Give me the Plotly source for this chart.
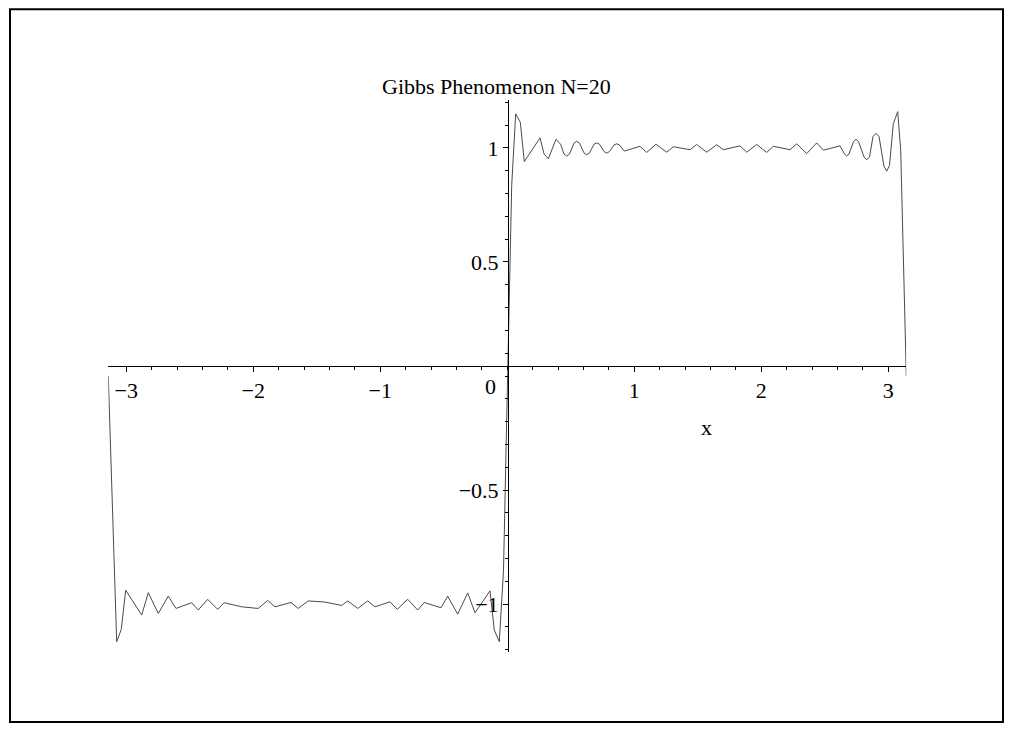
import plotly.graph_objects as go
import math

x_vals = [-3.1416, -3.1118, -3.0756, -3.0394, -3.0047, -2.8787, -2.8268, -2.7480, -2.6693,
          -2.6087, -2.4850, -2.4331, -2.3591, -2.2803, -2.2283, -2.0913, -1.9606, -1.8866,
          -1.8291, -1.7031, -1.6457, -1.5669, -1.4354, -1.3039, -1.2567, -1.1780, -1.0992,
          -1.0417, -0.9236, -0.8661, -0.7843, -0.7055, -0.6535, -0.5220, -0.4693, -0.3906,
          -0.3118, -0.2543, -0.1362, -0.1024, -0.0630, -0.0299, 0.0, 0.0346, 0.0661,
          0.1024, 0.1339, 0.2575, 0.2890, 0.3228, 0.3835, 0.4205,
          0.4464, 0.4677, 0.4898, 0.5252, 0.5465, 0.5685, 0.6039, 0.6252, 0.6472,
          0.6827, 0.7039, 0.7260, 0.7614, 0.7827, 0.8047, 0.8402, 0.8614, 0.8835,
          0.9213, 1.0449, 1.0976, 1.1709, 1.2551, 1.3071, 1.4386,
          1.4913, 1.5701, 1.6488, 1.7008, 1.8323, 1.8850, 1.9638, 2.0425, 2.0945, 2.2260,
          2.2787, 2.3575, 2.4362, 2.4882, 2.6197,
          2.6551, 2.6724, 2.6906, 2.7260, 2.7457, 2.7654, 2.8087, 2.8299, 2.8520,
          2.8795, 2.9031, 2.9268, 2.9661, 2.9874, 3.0094,
          3.0394, 3.0740, 3.0976, 3.1416]
y_vals = [0.0, -0.566, -1.165, -1.111, -0.939, -1.048, -0.950, -1.041, -0.965,
          -1.019, -0.994, -1.026, -0.979, -1.023, -0.994, -1.012, -1.019, -0.984,
          -1.012, -0.993, -1.019, -0.986, -0.991, -1.006, -0.986, -1.019, -0.986,
          -1.012, -0.990, -1.023, -0.979, -1.026, -0.993, -1.016, -0.965, -1.044,
          -0.951, -1.038, -0.942, -1.114, -1.165, -0.851, 0.0, 0.835, 1.149,
          1.113, 0.940, 1.044, 0.974, 0.952, 1.038, 1.015,
          0.973, 0.964, 0.973, 1.021, 1.029, 1.021, 0.978, 0.970, 0.978,
          1.016, 1.022, 1.016, 0.984, 0.977, 0.984, 1.013, 1.018, 1.013,
          0.986, 1.007, 0.980, 1.016, 0.981, 1.005, 0.992,
          1.015, 0.981, 1.014, 0.992, 1.009, 0.981, 1.015, 0.980, 1.007, 0.992,
          1.018, 0.975, 1.022, 0.990, 1.009,
          0.973, 0.965, 0.973, 1.028, 1.038, 1.028, 0.960, 0.948, 0.960,
          1.050, 1.064, 1.050, 0.919, 0.898, 0.923,
          1.106, 1.159, 0.989, 0.0]

x_ticks = [-3, -2, -1, 1, 2, 3]
y_ticks = [-1, -0.5, 0.5, 1]
title_text = "Gibbs Phenomenon N=20"
x_label = "x"

# page body has an 8px margin; the figure is laid out in window pixels minus it
OFF = 8
W, H = 1000, 716
FONT = "Liberation Serif, Times New Roman, serif"


def px(v):
    return (v - OFF) / W


def py(v):
    return 1 - (v - OFF) / H


fig = go.Figure()
fig.add_trace(go.Scatter(x=x_vals, y=y_vals, mode="lines",
                         line=dict(color="#4a4a4a", width=1), hoverinfo="skip"))

fig.update_layout(
    width=W, height=H,
    margin=dict(l=0, r=0, t=0, b=0),
    paper_bgcolor="white", plot_bgcolor="white",
    showlegend=False,
    font=dict(family=FONT, size=22, color="black"),
    xaxis=dict(
        domain=[px(108.3), px(906.3)],
        range=[-math.pi, math.pi],
        anchor="free", position=0.5,
        showgrid=False, zeroline=False,
        showline=True, linecolor="black", linewidth=1,
        tickmode="array", tickvals=x_ticks,
        ticks="outside", ticklen=5, tickcolor="black", tickwidth=1,
        minor=dict(tickmode="linear", tick0=0, dtick=0.2, ticks="outside",
                   ticklen=3, tickcolor="black", tickwidth=1),
        tickfont=dict(family=FONT, size=22, color="black"),
        fixedrange=True,
    ),
    yaxis=dict(
        domain=[py(652), py(100)],
        range=[-1.21, 1.21],
        anchor="free", position=0.5,
        showgrid=False, zeroline=False,
        showline=True, linecolor="black", linewidth=1,
        tickmode="array", tickvals=y_ticks,
        ticks="outside", ticklen=5, tickcolor="black", tickwidth=1,
        minor=dict(tickmode="linear", tick0=0, dtick=0.1, ticks="outside",
                   ticklen=3, tickcolor="black", tickwidth=1),
        tickfont=dict(family=FONT, size=22, color="black"),
        fixedrange=True,
    ),
)

fig.add_annotation(text=title_text, xref="paper", yref="paper",
                   x=px(496), y=py(87), xanchor="center", yanchor="middle",
                   showarrow=False, font=dict(family=FONT, size=22, color="black"))
fig.add_annotation(text=x_label, xref="paper", yref="paper",
                   x=px(706), y=py(427), xanchor="center", yanchor="middle",
                   showarrow=False, font=dict(family=FONT, size=22, color="black"))
fig.add_annotation(text="0", xref="paper", yref="paper",
                   x=px(490), y=py(386), xanchor="center", yanchor="middle",
                   showarrow=False, font=dict(family=FONT, size=22, color="black"))

fig.add_shape(type="rect", xref="paper", yref="paper",
              x0=px(10), y0=py(722), x1=px(1003), y1=py(9.2),
              line=dict(color="black", width=2), fillcolor="rgba(0,0,0,0)")

fig.write_html("out.html", config={"displayModeBar": False})
